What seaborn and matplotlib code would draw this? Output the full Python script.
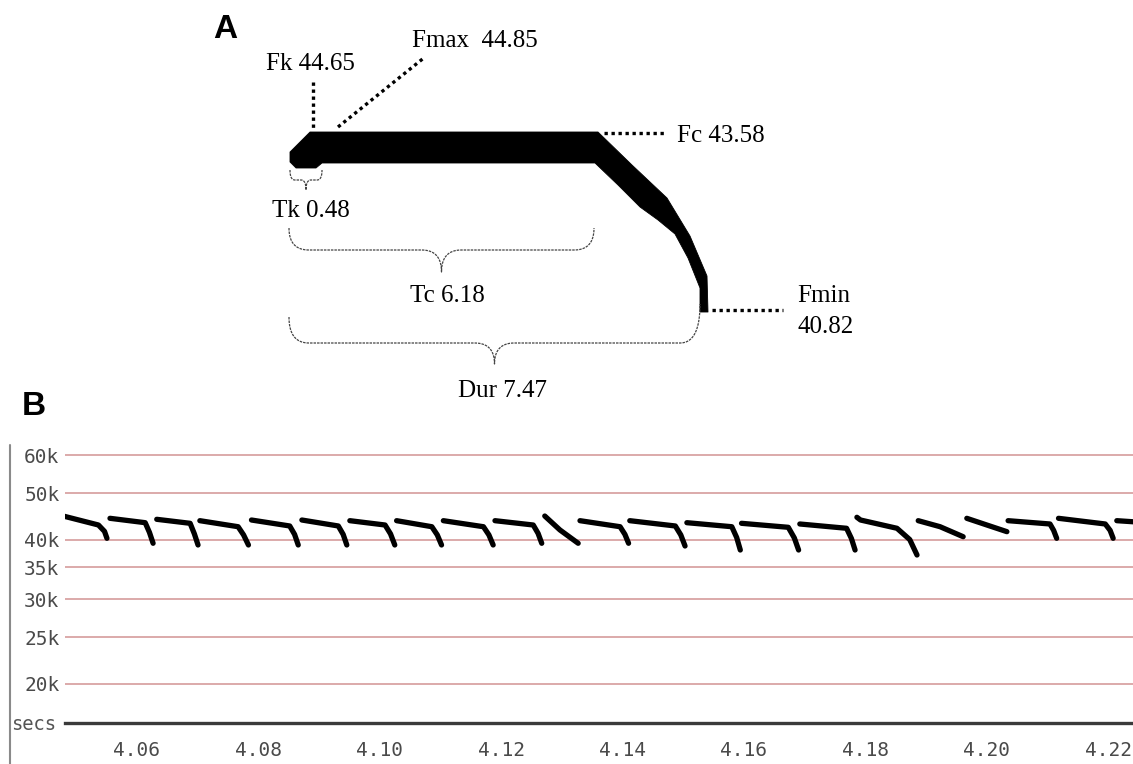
import numpy as np
import pandas as pd
import matplotlib
matplotlib.use("Agg")
import matplotlib.pyplot as plt
import seaborn as sns
from matplotlib.patches import Polygon

# ---------------- data ----------------
# Panel A: call parameters (kHz / ms)
fk_label = "Fk 44.65"
fmax_label = "Fmax  44.85"
fc_label = "Fc 43.58"
fmin_label = "Fmin"
fmin_value = "40.82"
tk_label = "Tk 0.48"
tc_label = "Tc 6.18"
dur_label = "Dur 7.47"

# Panel B: pulse traces (time in s, frequency in kHz)
pulse_t = [
    [4.0479, 4.0537, 4.0547, 4.0551],
    [4.0556, 4.0614, 4.0621, 4.0627],
    [4.0633, 4.0688, 4.0695, 4.0701],
    [4.0704, 4.0767, 4.0776, 4.0784],
    [4.0789, 4.0852, 4.0860, 4.0866],
    [4.0872, 4.0932, 4.0940, 4.0946],
    [4.0951, 4.1009, 4.1018, 4.1025],
    [4.1028, 4.1086, 4.1095, 4.1102],
    [4.1105, 4.1171, 4.1180, 4.1187],
    [4.1190, 4.1253, 4.1261, 4.1267],
    [4.1272, 4.1297, 4.1327],
    [4.1330, 4.1396, 4.1404, 4.1410],
    [4.1412, 4.1487, 4.1496, 4.1503],
    [4.1506, 4.1580, 4.1588, 4.1594],
    [4.1596, 4.1673, 4.1683, 4.1690],
    [4.1692, 4.1769, 4.1777, 4.1783],
    [4.1786, 4.1792, 4.1852, 4.1873, 4.1885],
    [4.1887, 4.1923, 4.1961],
    [4.1967, 4.2000, 4.2033],
    [4.2035, 4.2104, 4.2110, 4.2115],
    [4.2118, 4.2195, 4.2203, 4.2208],
    [4.2214, 4.2260],
]
pulse_f = [
    [44.78, 42.89, 41.60, 40.24],
    [44.29, 43.37, 41.40, 39.29],
    [44.08, 43.24, 41.10, 38.97],
    [43.79, 42.54, 40.90, 38.97],
    [43.93, 42.69, 41.00, 38.97],
    [43.93, 42.69, 41.00, 38.97],
    [43.79, 42.89, 41.10, 38.97],
    [43.79, 42.54, 40.90, 38.97],
    [43.79, 42.54, 40.90, 38.97],
    [43.79, 42.89, 41.20, 39.29],
    [44.78, 41.88, 39.29],
    [43.79, 42.54, 41.00, 39.29],
    [43.79, 42.69, 40.90, 38.78],
    [43.37, 42.54, 40.40, 38.04],
    [43.24, 42.42, 40.30, 38.04],
    [43.10, 42.22, 40.20, 38.04],
    [44.51, 43.93, 42.22, 40.00, 37.14],
    [43.79, 42.54, 40.55],
    [44.29, 42.89, 41.54],
    [43.79, 43.10, 41.80, 40.24],
    [44.29, 43.10, 41.80, 40.24],
    [43.79, 43.40],
]
freq_ticks = [20, 25, 30, 35, 40, 50, 60]
freq_tick_labels = ["20k", "25k", "30k", "35k", "40k", "50k", "60k"]
time_major = [4.06, 4.08, 4.10, 4.12, 4.14, 4.16, 4.18, 4.20, 4.22]
time_major_labels = ["4.06", "4.08", "4.10", "4.12", "4.14", "4.16", "4.18", "4.20", "4.22"]
time_minor = [4.05, 4.07, 4.09, 4.11, 4.13, 4.15, 4.17, 4.19, 4.21]

rows = []
for i, (ts, fs) in enumerate(zip(pulse_t, pulse_f)):
    for j, (t, f) in enumerate(zip(ts, fs)):
        rows.append({"pulse": i, "order": j, "t": t, "f": f})
df = pd.DataFrame(rows)

# ---------------- figure ----------------
sns.set_theme(style="white")
plt.rcParams["font.family"] = ["Liberation Serif", "DejaVu Serif"]

W, H = 1133, 764
fig = plt.figure(figsize=(W / 100, H / 100), dpi=100)
fig.patch.set_facecolor("white")

# canvas axis in pixel units for schematic panel A and labels
ax0 = fig.add_axes([0, 0, 1, 1])
ax0.set_xlim(0, W)
ax0.set_ylim(H, 0)
ax0.axis("off")

# schematic call shape (outline of the drawing)
shape = np.array([
    (310, 132), (598, 132), (632, 165), (667, 198), (690, 236), (707, 276),
    (708, 312), (700, 312), (700, 288), (688, 258), (675, 234), (658, 220),
    (640, 207), (618, 185), (595, 163), (322, 163), (316, 168), (296, 168),
    (290, 162), (290, 152),
])
ax0.add_patch(Polygon(shape, closed=True, facecolor="black", edgecolor="black",
                      lw=0.6, joinstyle="round"))

dot = dict(color="black", lw=2.4, linestyle=(0, (1, 1.1)), dash_capstyle="butt")
ax0.plot([313, 313], [82, 130], **dot)
ax0.plot([338, 425], [127, 57], **dot)
ax0.plot([604, 667], [133, 133], **dot)
ax0.plot([712, 783], [310, 310], **dot)


def qb(p0, p1, p2, n=24):
    s = np.linspace(0, 1, n)[:, None]
    return (1 - s) ** 2 * np.array(p0) + 2 * (1 - s) * s * np.array(p1) + s ** 2 * np.array(p2)


def brace(x0, x1, ytop0, ytop1, ymid, ytip, r):
    xc = (x0 + x1) / 2
    pts = np.vstack([
        qb((x0, ytop0), (x0, ymid), (x0 + r, ymid)),
        qb((xc - r, ymid), (xc, ymid), (xc, ytip)),
        qb((xc, ytip), (xc, ymid), (xc + r, ymid)),
        qb((x1 - r, ymid), (x1, ymid), (x1, ytop1)),
    ])
    ax0.plot(pts[:, 0], pts[:, 1], color="#444444", lw=0.9, linestyle=(0, (2, 0.8)))


brace(290, 322, 170, 170, 180, 190, 5)
brace(289, 594, 228, 228, 250, 272, 20)
brace(289, 700, 317, 304, 343, 364, 20)

serif = dict(fontsize=18, color="black", va="baseline")
ax0.text(266, 70, fk_label, ha="left", **serif)
ax0.text(412, 47, fmax_label, ha="left", **serif)
ax0.text(677, 142, fc_label, ha="left", **serif)
ax0.text(797, 302, fmin_label, ha="left", **serif)
ax0.text(797, 333, fmin_value, ha="left", **serif)
ax0.text(272, 217, tk_label, ha="left", **serif)
ax0.text(447, 302, tc_label, ha="center", **serif)
ax0.text(503, 397, dur_label, ha="center", **serif)

bold = dict(fontsize=24, fontweight="bold", color="black", va="baseline",
            family=["Liberation Sans", "DejaVu Sans"])
ax0.text(213, 38, "A", ha="left", **bold)
ax0.text(22, 415, "B", ha="left", **bold)

# frame line on the left of panel B, and "secs" label
ax0.plot([10, 10], [445, H], color="#8a8a8a", lw=1.5)
ax0.text(11, 724, "secs", ha="left", va="center", fontsize=13.5, color="#555555",
         family=["DejaVu Sans Mono"])

# ---------------- panel B ----------------
x_left, x_right, y_top, y_bot = 65, W, 445, 723
axB = fig.add_axes([x_left / W, (H - y_bot) / H, (x_right - x_left) / W, (y_bot - y_top) / H])
axB.set_facecolor("none")

sns.lineplot(data=df, x="t", y="f", units="pulse", estimator=None, sort=False,
             color="black", lw=3.8, solid_capstyle="round", solid_joinstyle="round",
             ax=axB, legend=False)

axB.set_yscale("log")
axB.set_xlim(4.048193, 4.224068)
axB.set_ylim(16.586, 62.963)
axB.set_yticks(freq_ticks)
axB.set_yticks([], minor=True)
axB.set_yticklabels(freq_tick_labels)
axB.set_xticks(time_major)
axB.set_xticklabels(time_major_labels)
axB.set_xticks(time_minor, minor=True)
axB.set_xlabel("")
axB.set_ylabel("")

for f in freq_ticks:
    axB.axhline(f, color="#dcaaaa", lw=1.4, zorder=0)

for s in ["top", "right", "left"]:
    axB.spines[s].set_visible(False)
axB.spines["bottom"].set_color("#3a3a3a")
axB.spines["bottom"].set_linewidth(2.4)

mono = "DejaVu Sans Mono"
axB.tick_params(axis="y", length=0, pad=4, labelsize=14, labelcolor="#4a4a4a")
axB.tick_params(axis="x", which="major", direction="out", length=7, width=1.5,
                color="#444444", pad=6, labelsize=14, labelcolor="#4a4a4a")
axB.tick_params(axis="x", which="minor", direction="out", length=2.5, width=2,
                color="#444444")
for lab in axB.get_xticklabels() + axB.get_yticklabels():
    lab.set_family(mono)

fig.savefig("out.png", dpi=100, facecolor="white")
